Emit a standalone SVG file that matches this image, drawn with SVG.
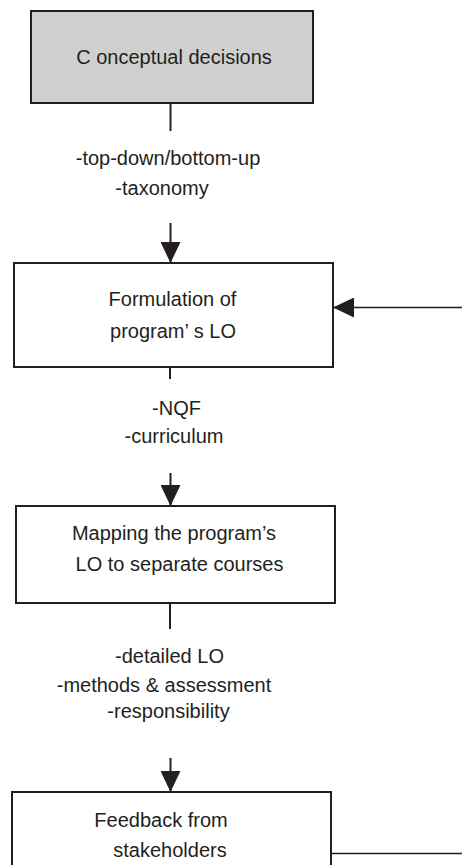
<svg xmlns="http://www.w3.org/2000/svg" width="462" height="865" viewBox="0 0 462 865">
<style>
.box{fill:#fff;stroke:#231f20;stroke-width:2}
.grey{fill:#cfcfcf}
.t{font-family:"Liberation Sans",Arial,sans-serif;font-size:20px;fill:#231f20;text-anchor:middle}
.ln{stroke:#231f20;stroke-width:2;fill:none}
.thin{stroke:#231f20;stroke-width:1.4;fill:none}
</style>
<defs>
<marker id="ah" viewBox="0 0 21 20" refX="21" refY="10" markerWidth="21" markerHeight="20" markerUnits="userSpaceOnUse" orient="auto">
<path d="M0,0 L21,10 L0,20 Z" fill="#231f20"/>
</marker>
</defs>
<rect width="462" height="865" fill="#fff"/>
<g id="conceptual">
<rect class="box grey" x="31" y="11" width="282" height="92"/>
<text class="t" x="174" y="64">C onceptual decisions</text>
</g>
<g id="formulation">
<rect class="box" x="14" y="263" width="319" height="104"/>
<text class="t" x="172.5" y="306">Formulation of</text>
<text class="t" x="173" y="338">program’ s LO</text>
</g>
<g id="mapping">
<rect class="box" x="16" y="506" width="319" height="97"/>
<text class="t" x="174" y="540">Mapping the program’s</text>
<text class="t" x="179.5" y="571">LO to separate courses</text>
</g>
<g id="feedback">
<rect class="box" x="12" y="792" width="319" height="90"/>
<text class="t" x="161" y="827">Feedback from</text>
<text class="t" x="170" y="857">stakeholders</text>
</g>
<g id="labels">
<text class="t" x="168" y="165">-top-down/bottom-up</text>
<text class="t" x="162" y="195">-taxonomy</text>
<text class="t" x="176.5" y="415">-NQF</text>
<text class="t" x="174" y="443">-curriculum</text>
<text class="t" x="169.5" y="663">-detailed LO</text>
<text class="t" x="164" y="692">-methods &amp; assessment</text>
<text class="t" x="168.5" y="718">-responsibility</text>
</g>
<g id="connectors">
<line class="ln" x1="170.5" y1="103" x2="170.5" y2="131"/>
<line class="ln" x1="170.5" y1="223" x2="170.5" y2="263" marker-end="url(#ah)"/>
<line class="ln" x1="170" y1="367" x2="170" y2="379"/>
<line class="ln" x1="170.5" y1="473" x2="170.5" y2="506" marker-end="url(#ah)"/>
<line class="ln" x1="170" y1="603" x2="170" y2="629"/>
<line class="ln" x1="170.5" y1="758" x2="170.5" y2="792" marker-end="url(#ah)"/>
<line class="thin" x1="331" y1="853.5" x2="462" y2="853.5"/>
<line class="thin" x1="462" y1="307.5" x2="333" y2="307.5" marker-end="url(#ah)"/>
</g>
</svg>
